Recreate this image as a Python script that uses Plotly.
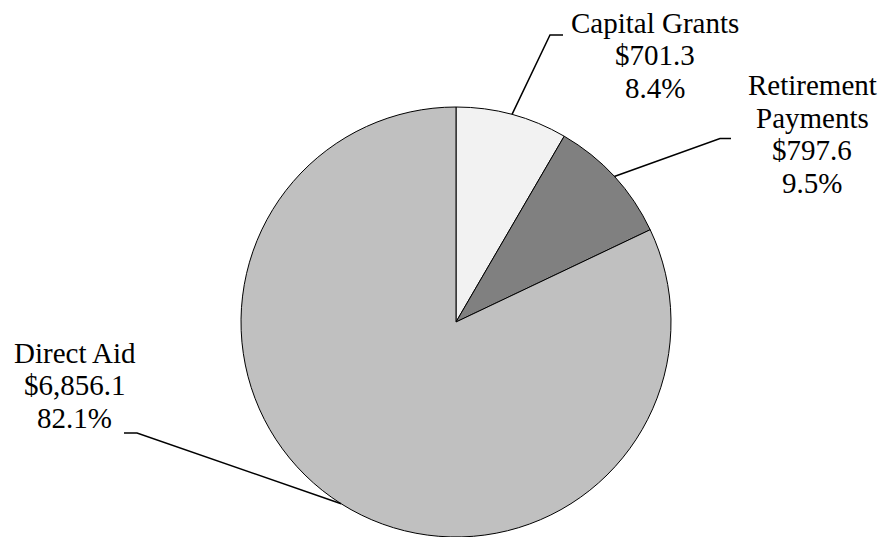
import math
import plotly.graph_objects as go

# Budget components (millions of dollars)
categories = ["Capital Grants", "Retirement Payments", "Direct Aid"]
amounts = [701.3, 797.6, 6856.1]
slice_colors = ["#f2f2f2", "#808080", "#c0c0c0"]

# Page geometry (pixels)
W, H = 881, 537
CX, CY, R = 456, 322, 215

# Label layout: wrapped name lines, text centre x, first baseline y,
# leader elbow point and leader end point
label_layout = {
    "Capital Grants": dict(lines=["Capital Grants"], cx=655, top=32.5,
                           elbow=(550, 35), end=(563, 35)),
    "Retirement Payments": dict(lines=["Retirement", "Payments"], cx=812, top=95,
                                elbow=(720, 138.5), end=(731, 138.5)),
    "Direct Aid": dict(lines=["Direct Aid"], cx=74.5, top=362.5,
                       elbow=(137, 433), end=(124, 433)),
}
LINE_STEP = 32.5
FONT_SIZE = 29
FONT = dict(family="Liberation Serif", size=FONT_SIZE, color="black")


def px(x):
    return x / W


def py(y):
    return 1 - y / H


fig = go.Figure()
fig.add_trace(go.Pie(
    labels=categories,
    values=amounts,
    sort=False,
    direction="clockwise",
    rotation=0,
    marker=dict(colors=slice_colors, line=dict(color="black", width=1)),
    textinfo="none",
    hoverinfo="label+value+percent",
    showlegend=False,
    domain=dict(x=[px(CX - R), px(CX + R)], y=[py(CY + R), py(CY - R)]),
))

total = sum(amounts)
annotations = []
shapes = []
cum = 0.0
for name, val in zip(categories, amounts):
    share = val / total
    mid = (cum + share / 2) * 2 * math.pi
    cum += share
    sx = CX + R * math.sin(mid)
    sy = CY - R * math.cos(mid)
    cfg = label_layout[name]
    ex, ey = cfg["elbow"]
    tx, ty = cfg["end"]
    path = f"M {px(sx)} {py(sy)} L {px(ex)} {py(ey)} L {px(tx)} {py(ty)}"
    shapes.append(dict(type="path", xref="paper", yref="paper", path=path,
                       line=dict(color="black", width=1.5)))
    lines = cfg["lines"] + [f"${val:,.1f}", f"{share * 100:.1f}%"]
    for i, txt in enumerate(lines):
        base = cfg["top"] + i * LINE_STEP
        annotations.append(dict(
            x=px(cfg["cx"]), y=py(base - 0.33 * FONT_SIZE),
            xref="paper", yref="paper", xanchor="center", yanchor="middle",
            text=txt, showarrow=False, font=FONT,
        ))

fig.update_layout(
    width=W, height=H,
    margin=dict(l=0, r=0, t=0, b=0),
    paper_bgcolor="white",
    plot_bgcolor="white",
    font=FONT,
    shapes=shapes,
    annotations=annotations,
)

fig.write_html("out.html")
